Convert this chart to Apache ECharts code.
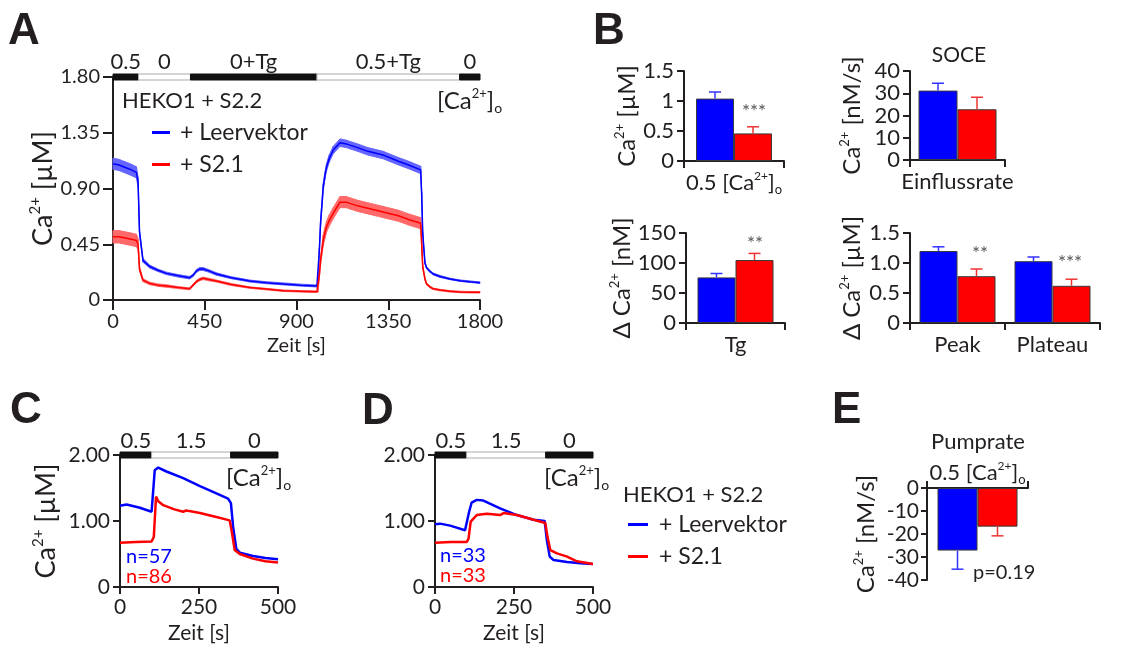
<!DOCTYPE html>
<html>
<head>
<meta charset="utf-8">
<script src="https://cdn.jsdelivr.net/npm/echarts@6/dist/echarts.min.js"></script>
<style>html,body{margin:0;background:#fff}#chart{width:1130px;height:646px}</style>
</head>
<body>
<div id="chart"></div>
<script>
// ---- Panel A: Zeitverlauf (Mittelwert +/- SEM)
var aTime = [0, 30, 60, 90, 115, 123, 130, 147, 180, 220, 262, 320, 376, 393, 410, 425, 442, 470, 507, 580, 671, 750, 835, 920, 1000,
  1006, 1012, 1018, 1031, 1039, 1047, 1060, 1080, 1113, 1145, 1162, 1200, 1250, 1325, 1400, 1450, 1509,
  1514, 1519, 1530, 1538, 1555, 1571, 1604, 1653, 1702, 1750, 1800];
var aBlue = [1.10, 1.09, 1.07, 1.05, 1.03, 0.95, 0.55, 0.32, 0.27, 0.24, 0.215, 0.195, 0.18, 0.20, 0.235, 0.25, 0.25, 0.235, 0.21, 0.18, 0.153, 0.14, 0.13, 0.12, 0.113,
  0.115, 0.40, 0.62, 0.91, 1.00, 1.07, 1.14, 1.21, 1.27, 1.26, 1.25, 1.23, 1.20, 1.17, 1.12, 1.09, 1.05,
  0.85, 0.54, 0.30, 0.26, 0.23, 0.21, 0.19, 0.17, 0.156, 0.148, 0.14];
var aBlueErr = [0.045, 0.045, 0.045, 0.045, 0.045, 0.04, 0.02, 0.015, 0.012, 0.01, 0.01, 0.01, 0.01, 0.01, 0.012, 0.012, 0.012, 0.01, 0.01, 0.008, 0.008, 0.008, 0.008, 0.008, 0.008,
  0.008, 0.02, 0.03, 0.03, 0.03, 0.03, 0.03, 0.03, 0.03, 0.03, 0.03, 0.03, 0.03, 0.03, 0.03, 0.03, 0.03,
  0.02, 0.012, 0.01, 0.008, 0.008, 0.008, 0.008, 0.006, 0.006, 0.006, 0.006];
var aRed = [0.51, 0.51, 0.50, 0.49, 0.48, 0.45, 0.25, 0.16, 0.134, 0.12, 0.113, 0.10, 0.09, 0.12, 0.15, 0.165, 0.175, 0.165, 0.153, 0.125, 0.10, 0.088, 0.075, 0.07, 0.067,
  0.07, 0.20, 0.32, 0.48, 0.54, 0.59, 0.64, 0.70, 0.79, 0.79, 0.78, 0.76, 0.74, 0.71, 0.68, 0.65, 0.62,
  0.45, 0.27, 0.17, 0.13, 0.105, 0.09, 0.08, 0.07, 0.065, 0.063, 0.062];
var aRedErr = [0.05, 0.05, 0.05, 0.05, 0.05, 0.045, 0.02, 0.012, 0.01, 0.01, 0.01, 0.008, 0.008, 0.008, 0.01, 0.01, 0.01, 0.01, 0.008, 0.008, 0.006, 0.006, 0.006, 0.006, 0.006,
  0.006, 0.02, 0.035, 0.045, 0.045, 0.045, 0.045, 0.045, 0.045, 0.045, 0.045, 0.045, 0.045, 0.045, 0.045, 0.045, 0.045,
  0.03, 0.015, 0.01, 0.008, 0.008, 0.006, 0.006, 0.006, 0.006, 0.006, 0.006];
var aPhaseStart = [0, 125, 380, 1000, 1700];
var aPhaseEnd = [125, 380, 1000, 1700, 1800];
var aPhaseLabel = ['0.5', '0', '0+Tg', '0.5+Tg', '0'];
var aPhaseDark = [1, 0, 1, 0, 1];

// ---- Panel B: Balken (Mittelwert, SEM)
var b1Cat = ['0.5 [Ca2+]o'];
var b1Blue = [1.04], b1BlueErr = [0.11], b1Red = [0.46], b1RedErr = [0.11];
var b2Cat = ['Einflussrate'];
var b2Blue = [31.2], b2BlueErr = [3.3], b2Red = [22.8], b2RedErr = [5.4];
var b3Cat = ['Tg'];
var b3Blue = [76], b3BlueErr = [6.5], b3Red = [105], b3RedErr = [11];
var b4Cat = ['Peak', 'Plateau'];
var b4Blue = [1.2, 1.03], b4BlueErr = [0.07, 0.07], b4Red = [0.78, 0.62], b4RedErr = [0.12, 0.11];

// ---- Panel C / D: Einzelmessungen
var cdPhaseStart = [0, 100, 350];
var cdPhaseEnd = [100, 350, 500];
var cdPhaseLabel = ['0.5', '1.5', '0'];
var cdPhaseDark = [1, 0, 1];
var cBlueT = [0, 21, 63, 100, 105, 110, 121, 147, 200, 253, 305, 342, 351, 358, 368, 379, 421, 460, 500];
var cBlue = [1.23, 1.25, 1.2, 1.14, 1.15, 1.77, 1.81, 1.75, 1.65, 1.53, 1.42, 1.34, 1.27, 0.91, 0.58, 0.52, 0.47, 0.44, 0.42];
var cRedT = [0, 50, 100, 107, 114, 121, 137, 170, 200, 210, 219, 253, 305, 347, 353, 363, 379, 421, 460, 500];
var cRed = [0.67, 0.68, 0.69, 0.76, 1.37, 1.30, 1.24, 1.18, 1.14, 1.16, 1.15, 1.12, 1.06, 1.01, 0.86, 0.56, 0.50, 0.43, 0.39, 0.37];
var dBlueT = [0, 16, 48, 95, 100, 108, 116, 132, 153, 206, 259, 312, 347, 354, 363, 375, 418, 460, 500];
var dBlue = [0.95, 0.96, 0.93, 0.86, 0.85, 1.14, 1.28, 1.32, 1.31, 1.19, 1.09, 1.02, 1.0, 0.71, 0.46, 0.41, 0.38, 0.36, 0.35];
var dRedT = [0, 50, 100, 106, 113, 132, 164, 206, 211, 217, 259, 312, 349, 356, 365, 386, 418, 449, 500];
var dRed = [0.67, 0.68, 0.68, 0.73, 0.99, 1.09, 1.11, 1.09, 1.06, 1.12, 1.09, 1.02, 0.97, 0.76, 0.56, 0.51, 0.46, 0.39, 0.35];

// ---- Panel E: Pumprate
var eCat = ['0.5 [Ca2+]o'];
var eBlue = [-27.2], eBlueErr = [8.1], eRed = [-16.8], eRedErr = [4];

var FF = "Lato, 'DejaVu Sans', sans-serif";
var ink = '#231f20';
var BLUE = '#0000ff', RED = '#ff0000';

function richSet(size) {
  var s = Math.round(size * 0.55);
  return {
    n: {fontSize: size, fontFamily: FF, color: ink, fill: ink, lineHeight: size + 4},
    s: {fontSize: s, fontFamily: FF, color: ink, fill: ink, lineHeight: s + 2, verticalAlign: 'top'},
    o: {fontSize: s + 1, fontFamily: FF, color: ink, fill: ink, lineHeight: s + 3, verticalAlign: 'bottom'}
  };
}
var CAO = '{n|[Ca}{s|2+}{n|]}{o|o}';
function caName(unit, delta) {
  return (delta ? '{n|\u0394 Ca}' : '{n|Ca}') + '{s|2+}{n| ' + unit + '}';
}
function catFmt(v) {
  return v === '0.5 [Ca2+]o' ? '{n|0.5 [Ca}{s|2+}{n|]}{o|o}' : '{n|' + v + '}';
}

function valAxis(grid, min, max, step, size, fmt, margin, tick) {
  return {
    gridIndex: grid, type: 'value', min: min, max: max, interval: step,
    axisLine: {show: true, onZero: false, lineStyle: {color: ink, width: 2}},
    axisTick: {show: true, length: tick, lineStyle: {color: ink, width: 2}},
    splitLine: {show: false},
    axisLabel: {fontSize: size, fontFamily: FF, color: ink, margin: margin, formatter: fmt || function (v) { return String(v); }}
  };
}
function yName(ax, text, gap, size) {
  ax.name = text;
  ax.nameLocation = 'middle';
  ax.nameRotate = 90;
  ax.nameGap = gap;
  ax.nameTextStyle = {fontFamily: FF, color: ink, rich: richSet(size)};
  return ax;
}
function xName(ax, gap, size) {
  ax.name = 'Zeit [s]';
  ax.nameLocation = 'middle';
  ax.nameGap = gap;
  ax.nameTextStyle = {fontFamily: FF, color: ink, fontSize: size};
  return ax;
}
function catAxis(grid, cats, size, margin, pos) {
  return {
    gridIndex: grid, type: 'category', data: cats, position: pos || 'bottom',
    axisLine: {show: true, lineStyle: {color: ink, width: 2}},
    axisTick: {show: true, length: 7, lineStyle: {color: ink, width: 2}},
    axisLabel: {margin: margin, formatter: catFmt, rich: richSet(size)}
  };
}
function fmt2(v) { return v === 0 ? '0' : v.toFixed(2); }
function fmt1(v) { return v === 0 ? '0' : v.toFixed(1); }

function lineSeries(idx, name, ts, vs, color, width) {
  return {
    type: 'line', name: name, xAxisIndex: idx, yAxisIndex: idx, showSymbol: false, symbol: 'none',
    data: ts.map(function (t, i) { return [t, vs[i]]; }),
    lineStyle: {color: color, width: width}, itemStyle: {color: color}, z: 3, animation: false
  };
}
function bandSeries(vals, errs, fill) {
  return {
    type: 'custom', xAxisIndex: 0, yAxisIndex: 0, z: 1, silent: true, animation: false,
    data: aTime.map(function (t, i) { return [t, vals[i], errs[i]]; }),
    encode: {x: 0, y: 1},
    renderItem: function (params, api) {
      var i = params.dataIndex;
      if (i >= aTime.length - 1) return null;
      var pts = [
        api.coord([aTime[i], vals[i] + errs[i]]),
        api.coord([aTime[i + 1], vals[i + 1] + errs[i + 1]]),
        api.coord([aTime[i + 1], vals[i + 1] - errs[i + 1]]),
        api.coord([aTime[i], vals[i] - errs[i]])
      ];
      return {type: 'polygon', shape: {points: pts}, style: {fill: fill, stroke: fill, lineWidth: 1}};
    }
  };
}
function phaseSeries(idx, starts, ends, labels, dark, ymax, size, lift) {
  return {
    type: 'custom', xAxisIndex: idx, yAxisIndex: idx, z: 6, silent: true, animation: false,
    data: starts.map(function (s, i) { return [s, ends[i], ymax]; }),
    encode: {x: [0, 1], y: 2},
    renderItem: function (params, api) {
      var i = params.dataIndex;
      var p0 = api.coord([api.value(0), ymax]);
      var p1 = api.coord([api.value(1), ymax]);
      return {type: 'group', children: [
        {type: 'rect', shape: {x: p0[0], y: p0[1] - 3, width: p1[0] - p0[0], height: 6},
          style: {fill: dark[i] ? '#111' : '#fff', stroke: dark[i] ? '#111' : '#aaa', lineWidth: 1}},
        {type: 'text', style: {text: labels[i], x: (p0[0] + p1[0]) / 2, y: p0[1] - lift,
          textAlign: 'center', textVerticalAlign: 'middle', align: 'center', verticalAlign: 'middle',
          fontSize: size, fontFamily: FF, fill: ink}}
      ]};
    }
  };
}
function barSeries(idx, name, vals, color, width) {
  return {
    type: 'bar', name: name, xAxisIndex: idx, yAxisIndex: idx, data: vals, barWidth: width, barGap: '0%',
    itemStyle: {color: color, borderColor: '#3a3a3a', borderWidth: 1}, animation: false
  };
}
function errSeries(idx, vals, errs, offset, color) {
  return {
    type: 'custom', xAxisIndex: idx, yAxisIndex: idx, z: 4, silent: true, animation: false,
    data: vals.map(function (v, i) { return [i, v, errs[i]]; }),
    encode: {x: 0, y: 1},
    renderItem: function (params, api) {
      var v = api.value(1), e = api.value(2);
      var base = api.coord([api.value(0), v]);
      var tip = api.coord([api.value(0), v < 0 ? v - e : v + e]);
      var x = base[0] + offset;
      return {type: 'group', children: [
        {type: 'line', shape: {x1: x, y1: base[1], x2: x, y2: tip[1]}, style: {stroke: color, lineWidth: 1.5}},
        {type: 'line', shape: {x1: x - 6, y1: tip[1], x2: x + 6, y2: tip[1]}, style: {stroke: color, lineWidth: 1.5}}
      ]};
    }
  };
}
function txt(x, y, text, size, color, align, rich) {
  var st = {text: text, fontSize: size, fontFamily: FF, fill: color || ink,
    textAlign: align || 'left', align: align || 'left', textVerticalAlign: 'middle', verticalAlign: 'middle'};
  if (rich) st.rich = richSet(size);
  return {type: 'text', x: x, y: y, style: st, silent: true};
}
function letter(x, y, t) {
  return {type: 'text', x: x, y: y, silent: true,
    style: {text: t, fontSize: 44, fontWeight: 'bold', fontFamily: "'Liberation Sans', Arial, sans-serif", fill: ink,
      textVerticalAlign: 'middle', verticalAlign: 'middle'}};
}

var chart = echarts.init(document.getElementById('chart'));
var option = {
  animation: false,
  backgroundColor: '#fff',
  grid: [
    {left: 113, top: 77, width: 367, height: 223},   // A
    {left: 684, top: 71, width: 100, height: 90},    // B1
    {left: 910, top: 71, width: 95, height: 89},     // B2
    {left: 686, top: 233, width: 99, height: 90},    // B3
    {left: 910, top: 233, width: 190, height: 90},   // B4
    {left: 120, top: 455, width: 158, height: 132},  // C
    {left: 435, top: 455, width: 158, height: 132},  // D
    {left: 927, top: 488, width: 101, height: 92}    // E
  ],
  xAxis: [
    xName(valAxis(0, 0, 1800, 450, 20, null, 12, 10), 36, 20),
    catAxis(1, b1Cat, 22, 9),
    catAxis(2, b2Cat, 22, 9),
    catAxis(3, b3Cat, 22, 9),
    catAxis(4, b4Cat, 22, 9),
    xName(valAxis(5, 0, 500, 250, 21, null, 10, 7), 36, 21),
    xName(valAxis(6, 0, 500, 250, 21, null, 10, 7), 36, 21),
    catAxis(7, eCat, 22, 2, 'top')
  ],
  yAxis: [
    yName(valAxis(0, 0, 1.8, 0.45, 20, fmt2, 13, 10), caName('[\u00b5M]'), 53, 27),
    yName(valAxis(1, 0, 1.5, 0.5, 22, null, 10, 7), caName('[\u00b5M]'), 42, 24),
    yName(valAxis(2, 0, 40, 10, 22, null, 10, 7), caName('[nM/s]'), 44, 24),
    yName(valAxis(3, 0, 150, 50, 22, null, 10, 7), caName('[nM]', true), 44, 24),
    yName(valAxis(4, 0, 1.5, 0.5, 22, fmt1, 10, 7), caName('[\u00b5M]', true), 44, 24),
    yName(valAxis(5, 0, 2, 1, 21, fmt2, 10, 7), caName('[\u00b5M]'), 58, 27),
    valAxis(6, 0, 2, 1, 21, fmt2, 10, 7),
    yName(valAxis(7, -40, 0, 10, 21, null, 8, 6), caName('[nM/s]'), 47, 24)
  ],
  legend: [
    {data: ['+ Leervektor', '+ S2.1'], orient: 'vertical', left: 152, top: 121, padding: 0, icon: 'rect',
      itemWidth: 18, itemHeight: 3, itemGap: 9, selectedMode: false,
      textStyle: {fontSize: 23, fontFamily: FF, color: ink, padding: [0, 0, 0, 5]}},
    {data: ['+ Leervektor', '+ S2.1'], orient: 'vertical', left: 628, top: 513, padding: 0, icon: 'rect',
      itemWidth: 20, itemHeight: 3, itemGap: 9, selectedMode: false,
      textStyle: {fontSize: 23, fontFamily: FF, color: ink, padding: [0, 0, 0, 6]}}
  ],
  series: [
    bandSeries(aBlue, aBlueErr, 'rgb(100,100,255)'),
    bandSeries(aRed, aRedErr, 'rgb(255,105,105)'),
    lineSeries(0, '+ Leervektor', aTime, aBlue, BLUE, 1.5),
    lineSeries(0, '+ S2.1', aTime, aRed, RED, 1.5),
    phaseSeries(0, aPhaseStart, aPhaseEnd, aPhaseLabel, aPhaseDark, 1.8, 22, 15),

    barSeries(1, 'Leervektor', b1Blue, BLUE, 38), barSeries(1, 'S2.1', b1Red, RED, 38),
    errSeries(1, b1Blue, b1BlueErr, -19, '#3333ff'), errSeries(1, b1Red, b1RedErr, 19, '#ee3333'),
    barSeries(2, 'Leervektor', b2Blue, BLUE, 39), barSeries(2, 'S2.1', b2Red, RED, 39),
    errSeries(2, b2Blue, b2BlueErr, -19.5, '#3333ff'), errSeries(2, b2Red, b2RedErr, 19.5, '#ee3333'),
    barSeries(3, 'Leervektor', b3Blue, BLUE, 38), barSeries(3, 'S2.1', b3Red, RED, 38),
    errSeries(3, b3Blue, b3BlueErr, -19, '#3333ff'), errSeries(3, b3Red, b3RedErr, 19, '#ee3333'),
    barSeries(4, 'Leervektor', b4Blue, BLUE, 38), barSeries(4, 'S2.1', b4Red, RED, 38),
    errSeries(4, b4Blue, b4BlueErr, -19, '#3333ff'), errSeries(4, b4Red, b4RedErr, 19, '#ee3333'),

    lineSeries(5, '+ Leervektor', cBlueT, cBlue, BLUE, 2.5),
    lineSeries(5, '+ S2.1', cRedT, cRed, RED, 2.5),
    phaseSeries(5, cdPhaseStart, cdPhaseEnd, cdPhaseLabel, cdPhaseDark, 2, 22, 14),
    lineSeries(6, '+ Leervektor', dBlueT, dBlue, BLUE, 2.5),
    lineSeries(6, '+ S2.1', dRedT, dRed, RED, 2.5),
    phaseSeries(6, cdPhaseStart, cdPhaseEnd, cdPhaseLabel, cdPhaseDark, 2, 22, 14),

    barSeries(7, 'Leervektor', eBlue, BLUE, 40), barSeries(7, 'S2.1', eRed, RED, 40),
    errSeries(7, eBlue, eBlueErr, -20, '#3333ff'), errSeries(7, eRed, eRedErr, 20, '#ee3333')
  ],
  graphic: [
    letter(8, 32, 'A'), letter(593, 32, 'B'), letter(10, 411, 'C'), letter(362, 412, 'D'), letter(832, 411, 'E'),
    txt(122, 101, 'HEKO1 + S2.2', 22),
    txt(437, 101, CAO, 24, ink, 'left', true),
    txt(754, 112, '***', 19, '#555', 'center'),
    txt(959, 55, 'SOCE', 21, ink, 'center'),
    txt(755, 244, '**', 19, '#555', 'center'),
    txt(980, 254, '**', 19, '#555', 'center'),
    txt(1070, 263, '***', 19, '#555', 'center'),
    txt(226, 478, CAO, 24, ink, 'left', true),
    txt(126, 557, 'n=57', 20, BLUE),
    txt(126, 577, 'n=86', 20, RED),
    txt(544, 478, CAO, 24, ink, 'left', true),
    txt(623, 495, 'HEKO1 + S2.2', 22),
    txt(440, 556, 'n=33', 20, BLUE),
    txt(440, 576, 'n=33', 20, RED),
    txt(978, 442, 'Pumprate', 22, ink, 'center'),
    txt(973, 573, 'p=0.19', 20)
  ]
};
chart.setOption(option);
</script>
</body>
</html>
